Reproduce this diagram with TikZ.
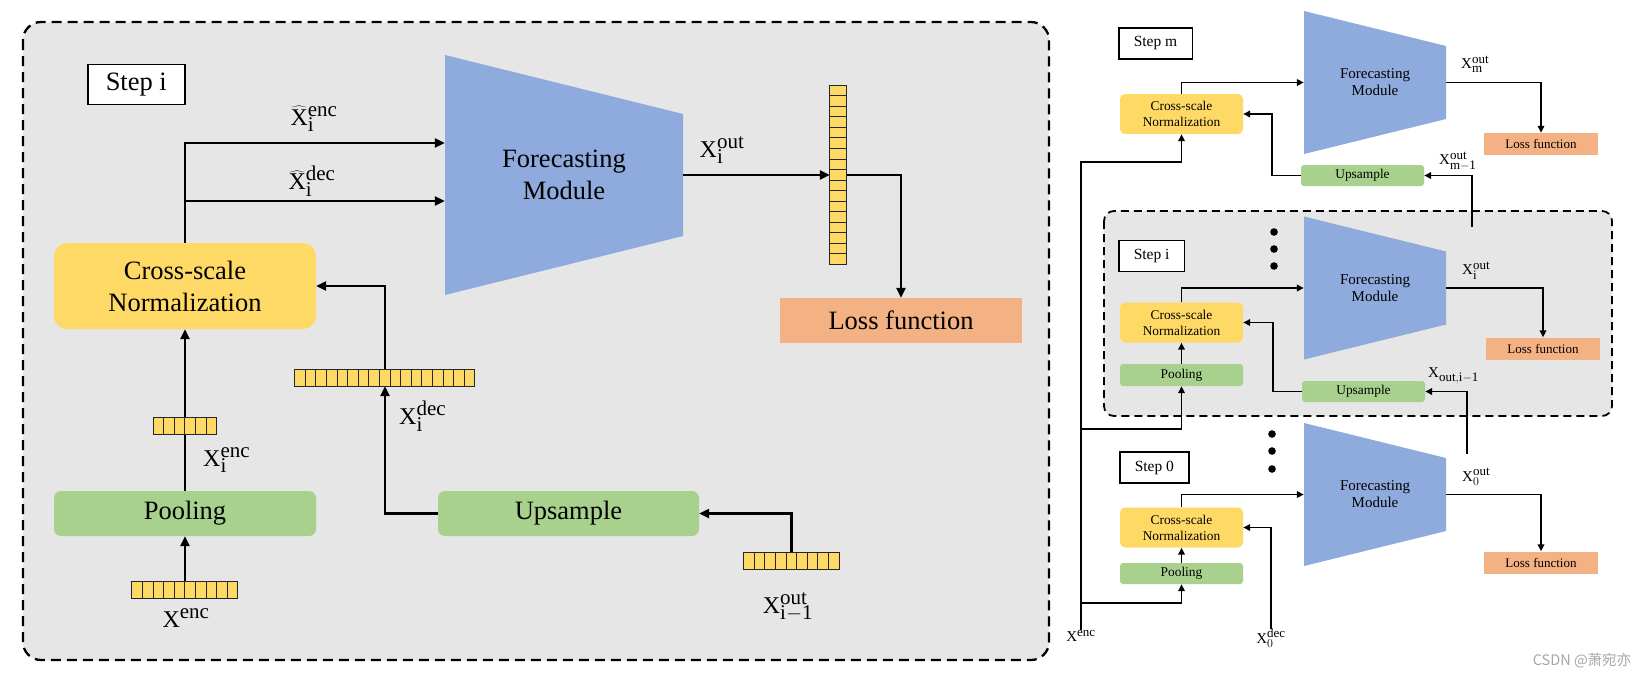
\documentclass[tikz,border=0pt]{standalone}
\usepackage{fontspec}
\setmainfont{Liberation Serif}
\newfontfamily\cjk{Noto Sans CJK SC}
\usepackage{tikz}
\usetikzlibrary{arrows.meta, positioning}
\DeclareMathSizes{24}{24}{21}{15}
\DeclareMathSizes{15}{15}{13}{9}
\definecolor{panelgray}{HTML}{E6E6E6}
\definecolor{csnyellow}{HTML}{FFD966}
\definecolor{poolgreen}{HTML}{A9D18E}
\definecolor{fmblue}{HTML}{8FAADC}
\definecolor{lossorange}{HTML}{F4B183}

\begin{document}
\begin{tikzpicture}[x=1pt, y=-1pt,
  bigtext/.style={font=\fontsize{26.5}{32}\selectfont, align=center, inner sep=0},
  smalltext/.style={font=\fontsize{13.4}{16}\selectfont, align=center, inner sep=0},
  fmtext/.style={font=\fontsize{15}{17}\selectfont, align=center, inner sep=0, minimum width=142pt, minimum height=143pt},
  stepbox/.style={draw, fill=white, line width=1.5pt},
  csnbox/.style={fill=csnyellow},
  greenbox/.style={fill=poolgreen},
  lossbox/.style={fill=lossorange},
  vec/.style={inner sep=0},
  cell/.style={fill=csnyellow, draw=black!85, line width=1pt},
  arr/.style={line width=2.3pt, -{Triangle[length=10pt,width=9pt]}},
  sarr/.style={line width=1.9pt, -{Triangle[length=7pt,width=6.5pt]}},
  lab/.style={inner sep=0, font=\fontsize{24}{28}\selectfont},
  slab/.style={inner sep=0, font=\fontsize{15}{17}\selectfont}]

\fill[white] (0,0) rectangle (1648,678);
\useasboundingbox (0,0) rectangle (1648,678);

% left: one step in detail
\draw[line width=2.3pt, dash pattern=on 10pt off 6pt, rounded corners=18pt, fill=panelgray] (23,22) rectangle (1049,660);
\fill[fmblue] (564,175) ++(-119,-120) -- ++(238,59) -- ++(0,122) -- ++(-238,59) -- cycle;
\node[bigtext, minimum width=238pt, minimum height=240pt] (fm) at (564,175) {Forecasting\\Module};
\node[stepbox, bigtext, anchor=west, minimum height=40pt, inner xsep=18pt] (stepi) at (87,84.5) {Step i};
\node[csnbox, bigtext, rounded corners=13pt, minimum width=262pt, minimum height=86pt] (csn) at (185,286) {Cross-scale\\Normalization};
\node[greenbox, bigtext, rounded corners=7pt, minimum width=262pt, minimum height=45pt] (pool) at (185,513.5) {Pooling};
\node[greenbox, bigtext, rounded corners=7pt, minimum width=261pt, minimum height=45pt] (up) at (568.5,513.5) {Upsample};
\node[lossbox, bigtext, minimum width=242pt, minimum height=45pt] (loss) at (901,320.5) {Loss function};

\node[vec, minimum width=106pt, minimum height=17pt] (xencv) at (185,589.5) {};
\node[vec, minimum width=63.6pt, minimum height=17pt] (encv) at (185,425.5) {};
\node[vec, minimum width=180.2pt, minimum height=17pt] (decv) at (385,377.5) {};
\node[vec, minimum width=95.4pt, minimum height=17pt] (prevv) at (791.5,560.5) {};
\node[vec, minimum width=17pt, minimum height=179pt] (outv) at (838.5,175) {};

\draw[arr] (xencv.north) -- (pool.south);
\draw[arr] (pool.north) -- (csn.south);
\draw[arr] (csn.north) |- ([yshift=32pt]fm.west);
\draw[arr] (csn.north) |- ([yshift=-26pt]fm.west);
\draw[arr] (up.west) -| (decv.south);
\draw[arr] (decv.north) |- (csn.east);
\draw[arr] (prevv.north) |- (up.east);
\draw[arr] (fm.east) -- (outv.west);
\draw[arr] (outv.east) -| (loss.north);

\foreach \v/\n in {xencv/9, encv/5, decv/16, prevv/8}
  \foreach \k in {0,...,\n} \draw[cell] ([xshift=\k*10.6pt]\v.south west) rectangle ++(10.6,-17);
\foreach \k in {0,...,16} \draw[cell] ([yshift=-\k*10.53pt]outv.north west) rectangle ++(17,10.53);

\node[lab] (lxhenc) at (314,119) {$\widehat{\mathrm{X}}_{\mathrm{i}}^{\mathrm{enc}}$};
\node[lab] (lxhdec) at (312,181) {$\widehat{\mathrm{X}}_{\mathrm{i}}^{\mathrm{dec}}$};
\node[lab] (lxout) at (722,150) {$\mathrm{X}_{\mathrm{i}}^{\mathrm{out}}$};
\node[lab, anchor=west] (lxenci) at (203,460) {$\mathrm{X}_{\mathrm{i}}^{\mathrm{enc}}$};
\node[lab, anchor=west] (lxdeci) at (399,416) {$\mathrm{X}_{\mathrm{i}}^{\mathrm{dec}}$};
\node[lab] (lxenc) at (186,618) {$\mathrm{X}^{\mathrm{enc}}$};
\node[lab] (lxprev) at (788,607) {$\mathrm{X}_{\mathrm{i-1}}^{\mathrm{out}}$};

% right: steps m, i and 0
\draw[line width=1.8pt, dash pattern=on 8pt off 5pt, rounded corners=10pt, fill=panelgray] (1104,211) rectangle (1612,416);
\foreach \y/\n in {82.5/m, 288/i, 494.5/0} {
  \fill[fmblue] (1375,\y) ++(-71,-71.5) -- ++(142,35) -- ++(0,73) -- ++(-142,35) -- cycle;
  \node[fmtext] (fm\n) at (1375,\y) {Forecasting\\Module};
}
\foreach \y in {232,249,266} \fill (1274,\y) circle (3.8);
\foreach \y in {434,451,469} \fill (1272,\y) circle (3.8);

\node[stepbox, font=\fontsize{15.5}{18}\selectfont, inner ysep=0, inner xsep=15pt, minimum height=31pt, anchor=west] (stepm) at (1118,43.5) {Step m};
\node[stepbox, font=\fontsize{15.5}{18}\selectfont, inner ysep=0, inner xsep=15pt, minimum height=31pt, anchor=west] (stepis) at (1118,256) {Step i};
\node[stepbox, font=\fontsize{15.5}{18}\selectfont, inner ysep=0, inner xsep=15pt, minimum height=31pt, anchor=west] (step0) at (1119,467.5) {Step 0};

\node[csnbox, smalltext, rounded corners=5pt, minimum width=123pt, minimum height=40pt] (csnm) at (1181.5,114) {Cross-scale\\Normalization};
\node[csnbox, smalltext, rounded corners=5pt, minimum width=123pt, minimum height=40pt] (csni) at (1181.5,322.5) {Cross-scale\\Normalization};
\node[csnbox, smalltext, rounded corners=5pt, minimum width=123pt, minimum height=40pt] (csn0) at (1181.5,527.5) {Cross-scale\\Normalization};
\node[greenbox, smalltext, rounded corners=3pt, minimum width=123pt, minimum height=22pt] (pooli) at (1181.5,375) {Pooling};
\node[greenbox, smalltext, rounded corners=3pt, minimum width=123pt, minimum height=21pt] (pool0) at (1181.5,573.5) {Pooling};
\node[greenbox, smalltext, rounded corners=3pt, minimum width=123pt, minimum height=21pt] (upm) at (1362.5,175.5) {Upsample};
\node[greenbox, smalltext, rounded corners=3pt, minimum width=123pt, minimum height=21pt] (upi) at (1363.5,391.5) {Upsample};
\node[lossbox, smalltext, font=\fontsize{13}{15}\selectfont, minimum width=114pt, minimum height=22pt] (lossm) at (1541,144) {Loss function};
\node[lossbox, smalltext, font=\fontsize{13}{15}\selectfont, minimum width=114pt, minimum height=22pt] (lossi) at (1543,348.5) {Loss function};
\node[lossbox, smalltext, font=\fontsize{13}{15}\selectfont, minimum width=114pt, minimum height=22pt] (loss0) at (1541,562.5) {Loss function};

\node[slab] (xenc) at (1081,636) {$\mathrm{X}^{\mathrm{enc}}$};
\node[slab] (xdec) at (1271,638) {$\mathrm{X}_{0}^{\mathrm{dec}}$};
\node[slab, anchor=west] (lxm) at (1461,64) {$\mathrm{X}_{\mathrm{m}}^{\mathrm{out}}$};
\node[slab, anchor=west] (lxm1) at (1439,161) {$\mathrm{X}_{\mathrm{m-1}}^{\mathrm{out}}$};
\node[slab, anchor=west] (lxis) at (1462,271) {$\mathrm{X}_{\mathrm{i}}^{\mathrm{out}}$};
\node[slab, anchor=west] (lxi1) at (1428,376) {$\mathrm{X}_{\mathrm{out,i-1}}$};
\node[slab, anchor=west] (lx0) at (1462,477) {$\mathrm{X}_{0}^{\mathrm{out}}$};

\coordinate (encm) at (1081,162);
\coordinate (enci) at (1081,429);
\coordinate (enc0) at (1081,603);
\coordinate (outi) at (1472,227);
\coordinate (out0) at (1467,454);
\draw[sarr] (xenc.north) -- (encm) -| (csnm.south);
\draw[sarr] (enci) -| (pooli.south);
\draw[sarr] (enc0) -| (pool0.south);
\draw[sarr] (pooli.north) -- (csni.south);
\draw[sarr] (pool0.north) -- (csn0.south);
\foreach \n in {m,i,0} {
  \draw[sarr] (csn\n.north) |- (fm\n.west);
  \draw[sarr] (fm\n.east) -| (loss\n.north);
}
\draw[sarr] (upm.west) -- ++(-29,0) |- (csnm.east);
\draw[sarr] (upi.west) -- ++(-29,0) |- (csni.east);
\draw[sarr] (outi) |- (upm.east);
\draw[sarr] (out0) |- (upi.east);
\draw[sarr] (xdec.north) |- (csn0.east);

\node[font=\cjk\fontsize{14.5}{16}\selectfont, text=black!35, inner sep=0] (wm) at (1582,661) {CSDN @萧宛亦};
\end{tikzpicture}
\end{document}
